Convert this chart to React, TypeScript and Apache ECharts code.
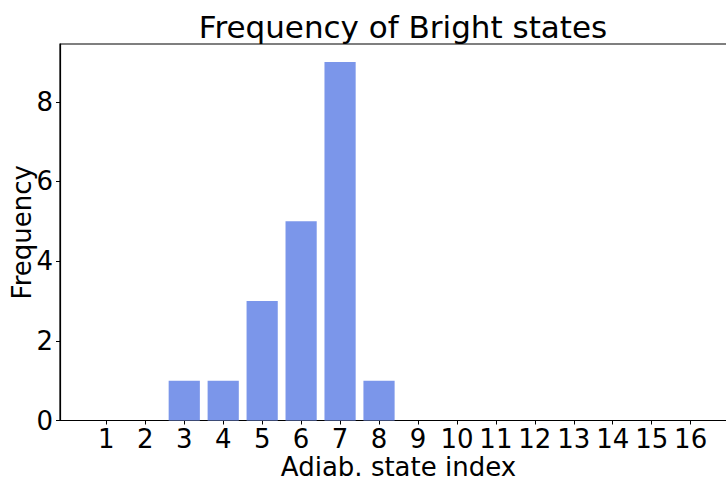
import React, { useEffect, useRef } from "react";
import * as echarts from "echarts";

// Adiabatic state indices and how often each one is the bright state
const stateIndex = [1, 2, 3, 4, 5, 6, 7, 8, 9, 10, 11, 12, 13, 14, 15, 16];
const frequency = [0, 0, 1, 1, 3, 5, 9, 1, 0, 0, 0, 0, 0, 0, 0, 0];
const yTicks = [0, 2, 4, 6, 8];

const FONT = "DejaVu Sans";

export default function App() {
  const ref = useRef<HTMLDivElement>(null);

  useEffect(() => {
    if (!ref.current) return;
    const chart = echarts.init(ref.current, undefined, { renderer: "svg" });
    chart.setOption({
      animation: false,
      backgroundColor: "#ffffff",
      textStyle: { fontFamily: FONT, color: "#000" },
      title: {
        text: "Frequency of Bright states",
        left: 398,
        textAlign: "center",
        top: 6,
        textStyle: { fontFamily: FONT, fontSize: 31, fontWeight: "normal", color: "#000" },
      },
      grid: {
        left: 60,
        top: 44,
        width: 677,
        height: 376.5,
        containLabel: false,
        outerBoundsMode: "none",
        show: true,
        borderColor: "#000",
        borderWidth: 1.2,
        backgroundColor: "transparent",
      },
      xAxis: {
        type: "value",
        min: -0.19,
        max: 17.19,
        name: "Adiab. state index",
        nameLocation: "middle",
        nameGap: 34,
        nameMoveOverlap: false,
        nameTextStyle: { fontFamily: FONT, fontSize: 26, lineHeight: 24, color: "#000" },
        axisLine: { show: true, onZero: false, lineStyle: { color: "#000", width: 1.2 } },
        axisTick: { show: true, length: 4, customValues: stateIndex, lineStyle: { color: "#000" } },
        axisLabel: {
          customValues: stateIndex,
          fontFamily: FONT,
          fontSize: 26,
          color: "#000",
          margin: 5,
        },
        splitLine: { show: false },
      },
      yAxis: {
        type: "value",
        min: 0,
        max: 9.45,
        interval: 2,
        name: "Frequency",
        nameLocation: "middle",
        nameGap: 25,
        nameRotate: 90,
        nameMoveOverlap: false,
        nameTextStyle: { fontFamily: FONT, fontSize: 26, color: "#000" },
        axisLine: { show: true, onZero: false, lineStyle: { color: "#000", width: 1.2 } },
        axisTick: { show: true, length: 4, customValues: yTicks, lineStyle: { color: "#000" } },
        axisLabel: {
          customValues: yTicks,
          fontFamily: FONT,
          fontSize: 26,
          color: "#000",
          margin: 7,
        },
        splitLine: { show: false },
      },
      series: [
        {
          type: "bar",
          data: stateIndex.map((s, i) => [s, frequency[i]]),
          barWidth: 31.2,
          itemStyle: { color: "#7b96ea" },
        },
      ],
    });
    return () => chart.dispose();
  }, []);

  return (
    <div
      ref={ref}
      style={{ position: "fixed", left: 0, top: 0, width: 726, height: 477 }}
    />
  );
}
